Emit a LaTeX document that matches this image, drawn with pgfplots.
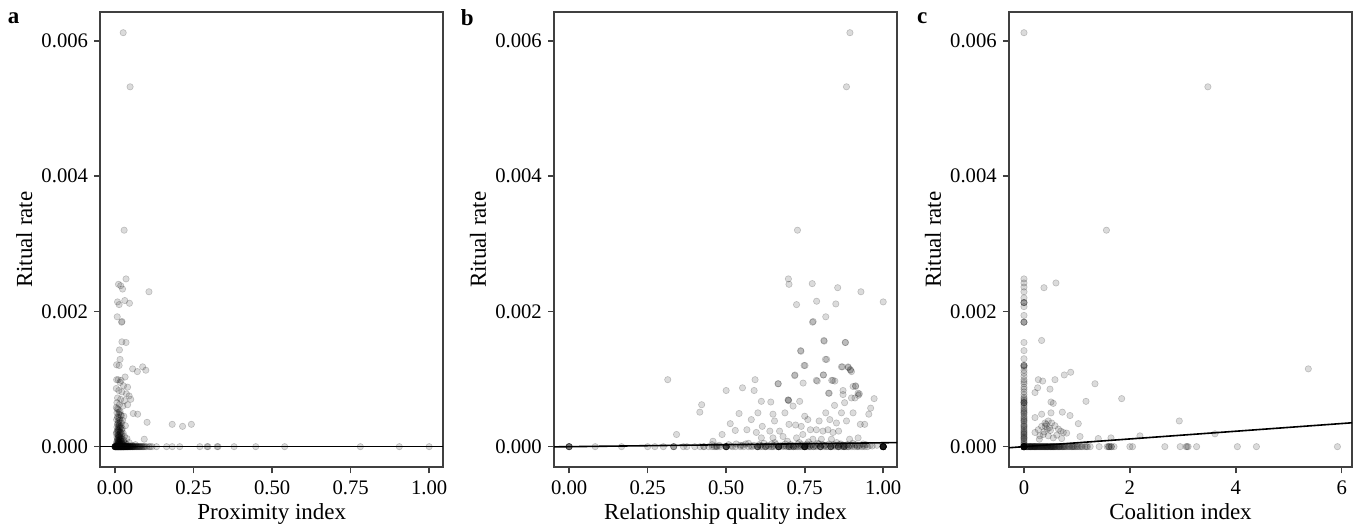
\documentclass[border=0pt]{standalone}
\usepackage{fontspec}
\setmainfont{Liberation Serif}
\usepackage{pgfplots}
\pgfplotsset{compat=1.18}

\newcommand{\tickfont}{\fontsize{15.5}{18}\selectfont}
\newcommand{\labfont}{\fontsize{17.25}{20}\selectfont}

\pgfplotsset{
  panel/.style={
    scale only axis, width=257.25pt, height=341.5pt,
    ymin=-0.000306, ymax=0.006426,
    ytick={0,0.002,0.004,0.006},
    yticklabels={0.000,0.002,0.004,0.006},
    scaled ticks=false,
    tick pos=left, tick align=outside,
    major tick length=4.5pt,
    axis line style={black!75, line width=1.6pt},
    tick style={black!75, line width=1.2pt},
    xticklabel style={font=\tickfont, inner sep=0pt, anchor=north, yshift=-5.5pt},
    yticklabel style={font=\tickfont, inner sep=0pt, anchor=east, xshift=-4.5pt},
    ylabel={Ritual rate},
    ylabel style={font=\labfont, at={(axis description cs:-0.2216,0.5)}, anchor=center},
    xlabel style={font=\labfont, at={(axis description cs:0.5,-0.1136)}, anchor=base},
    clip=false,
  },
  pts/.style={only marks, mark=*, mark size=2.4pt,
    mark options={draw=black, fill=black, fill opacity=0.14, draw opacity=0.2, line width=0.45pt}},
  fit/.style={black, line width=1.2pt, no marks},
}

\begin{document}
\begin{tikzpicture}

% ---------- a: proximity ----------
\begin{axis}[panel, at={(0pt,0pt)}, anchor=south west,
  xmin=-0.047, xmax=1.045,
  xtick={0,0.25,0.5,0.75,1}, xticklabels={0.00,0.25,0.50,0.75,1.00},
  xlabel={Proximity index}]
\addplot[pts] coordinates {
(0.026,0.00612)(0.048,0.00532)(0.029,0.00320)(0.035,0.00248)(0.011,0.00240)(0.018,0.00238)
(0.024,0.00233)(0.108,0.00229)(0.008,0.00214)(0.013,0.00210)(0.031,0.00216)(0.046,0.00212)
(0.007,0.00192)(0.021,0.00184)(0.022,0.00185)(0.022,0.00155)(0.035,0.00154)(0.014,0.00143)
(0.016,0.00129)(0.005,0.00121)(0.013,0.00120)(0.056,0.00115)(0.071,0.00111)(0.088,0.00118)
(0.098,0.00113)(0.005,0.00099)(0.019,0.00098)(0.032,0.00103)(0.010,0.00099)(0.016,0.00095)
(0.027,0.00090)(0.040,0.00088)(0.004,0.00086)(0.012,0.00083)(0.022,0.00081)(0.036,0.00078)
(0.045,0.00075)(0.008,0.00072)(0.018,0.00070)(0.030,0.00068)(0.050,0.00070)(0.006,0.00065)
(0.014,0.00062)(0.025,0.00060)(0.040,0.00062)(0.058,0.00049)(0.072,0.00048)(0.102,0.00036)
(0.182,0.00033)(0.215,0.00030)(0.243,0.00033)(0.093,0.00011)
(0.004,0.00058)(0.010,0.00055)(0.016,0.00052)(0.006,0.00050)(0.012,0.00048)(0.020,0.00046)
(0.008,0.00044)(0.014,0.00042)(0.028,0.00045)(0.005,0.00040)(0.011,0.00038)(0.017,0.00036)
(0.024,0.00039)(0.009,0.00034)(0.013,0.00032)(0.019,0.00030)(0.006,0.00029)(0.033,0.00031)
(0.010,0.00027)(0.015,0.00026)(0.021,0.00025)(0.007,0.00023)(0.012,0.00022)(0.018,0.00021)
(0.026,0.00020)(0.004,0.00019)(0.009,0.00018)(0.014,0.00017)(0.020,0.00016)(0.030,0.00015)
(0.006,0.00014)(0.011,0.00013)(0.016,0.00012)(0.023,0.00011)(0.038,0.00012)(0.008,0.00010)
(0.013,0.00009)(0.018,0.00008)(0.027,0.00008)(0.005,0.00007)(0.010,0.00006)(0.015,0.00006)
(0.021,0.00005)(0.033,0.00005)(0.045,0.00006)(0.007,0.00004)(0.012,0.00004)(0.017,0.00003)
(0.025,0.00003)(0.040,0.00003)(0.003,0.00002)(0.009,0.00002)(0.014,0.00002)(0.019,0.00002)
(0.030,0.00002)(0.055,0.00002)(0.065,0.00003)
(0.007,0.00056)(0.013,0.00051)(0.018,0.00047)(0.009,0.00043)(0.015,0.00039)(0.021,0.00035)
(0.008,0.00033)(0.012,0.00030)(0.017,0.00028)(0.023,0.00027)(0.011,0.00024)(0.016,0.00022)
(0.005,0.00021)(0.022,0.00019)(0.010,0.00017)(0.015,0.00015)(0.019,0.00013)(0.008,0.00012)
(0.013,0.00011)(0.028,0.00010)(0.017,0.00009)(0.010,0.00008)(0.022,0.00007)(0.014,0.00006)
(0.006,0.00005)(0.019,0.00004)(0.024,0.00004)(0.011,0.00003)(0.035,0.00003)(0.016,0.00001)
(0.012,0.00035)(0.014,0.00029)(0.009,0.00025)(0.016,0.00019)(0.011,0.00016)(0.013,0.00014)
(0.018,0.00011)(0.009,0.00009)(0.012,0.00007)(0.020,0.00006)(0.015,0.00004)(0.008,0.00003)
(0.000,0)(0.000,0)(0.000,0)(0.000,0)(0.002,0)(0.003,0)(0.004,0)(0.005,0)(0.006,0)(0.007,0)
(0.008,0)(0.009,0)(0.010,0)(0.011,0)(0.012,0)(0.013,0)(0.014,0)(0.015,0)(0.016,0)(0.017,0)
(0.018,0)(0.019,0)(0.020,0)(0.021,0)(0.022,0)(0.023,0)(0.024,0)(0.025,0)(0.026,0)(0.027,0)
(0.028,0)(0.029,0)(0.030,0)(0.032,0)(0.034,0)(0.036,0)(0.038,0)(0.040,0)(0.042,0)(0.044,0)
(0.046,0)(0.048,0)(0.050,0)(0.052,0)(0.055,0)(0.058,0)(0.061,0)(0.064,0)(0.067,0)(0.070,0)
(0.074,0)(0.078,0)(0.082,0)(0.087,0)(0.092,0)
(0.001,0)(0.004,0)(0.007,0)(0.010,0)(0.013,0)(0.016,0)(0.019,0)(0.022,0)(0.025,0)(0.028,0)
(0.031,0)(0.034,0)(0.037,0)(0.040,0)(0.001,0)(0.006,0)(0.011,0)(0.016,0)(0.021,0)(0.026,0)
(0.000,0)(0.002,0)(0.005,0)(0.008,0)(0.011,0)(0.014,0)(0.017,0)(0.020,0)(0.023,0)(0.026,0)
(0.029,0)(0.033,0)(0.037,0)(0.041,0)(0.045,0)(0.049,0)(0.054,0)(0.060,0)(0.003,0)(0.009,0)
(0.015,0)(0.021,0)(0.027,0)(0.033,0)(0.039,0)(0.047,0)(0.057,0)(0.068,0)(0.076,0)(0.085,0)
(0.000,0)(0.001,0)(0.003,0)(0.004,0)(0.006,0)(0.007,0)(0.009,0)(0.010,0)(0.012,0)(0.013,0)
(0.015,0)(0.017,0)(0.018,0)(0.020,0)(0.022,0)(0.024,0)(0.026,0)(0.028,0)(0.031,0)(0.035,0)
(0.039,0)(0.043,0)(0.050,0)(0.056,0)(0.063,0)(0.072,0)(0.080,0)(0.090,0)(0.096,0)(0.112,0)
(0.100,0)(0.108,0)(0.118,0)(0.132,0)(0.164,0)(0.182,0)(0.206,0)(0.270,0)(0.293,0)(0.296,0)
(0.325,0)(0.328,0)(0.379,0)(0.448,0)(0.540,0)(0.781,0)(0.905,0)(1.000,0)
};
\addplot[fit] coordinates {(-0.047,0)(1.045,0)};
\end{axis}

% ---------- b: relationship quality ----------
\begin{axis}[panel, at={(340.3pt,0pt)}, anchor=south west,
  xmin=-0.048, xmax=1.044,
  xtick={0,0.25,0.5,0.75,1}, xticklabels={0.00,0.25,0.50,0.75,1.00},
  xlabel={Relationship quality index}]
\addplot[pts] coordinates {
(0.894,0.00612)(0.883,0.00532)(0.727,0.00320)(0.698,0.00248)(0.700,0.00240)(0.774,0.00241)
(0.855,0.00235)(0.929,0.00229)(1.000,0.00214)(0.788,0.00215)(0.724,0.00210)(0.849,0.00211)
(0.817,0.00192)(0.775,0.00184)(0.777,0.00185)(0.812,0.00156)(0.880,0.00154)(0.738,0.00141)
(0.751,0.00120)(0.820,0.00129)(0.870,0.00118)(0.889,0.00117)(0.896,0.00113)(0.899,0.00111)
(0.719,0.00106)(0.809,0.00106)(0.314,0.00099)(0.592,0.00099)(0.666,0.00093)(0.745,0.00094)
(0.790,0.00097)(0.836,0.00098)(0.846,0.00097)(0.500,0.00083)(0.552,0.00087)(0.589,0.00083)
(0.828,0.00079)(0.872,0.00083)(0.912,0.00090)(0.924,0.00078)(0.422,0.00062)(0.416,0.00051)
(0.342,0.00018)(0.458,0.00008)(0.487,0.00018)(0.513,0.00034)(0.541,0.00049)(0.529,0.00024)
(0.566,0.00025)(0.580,0.00040)(0.601,0.00050)(0.596,0.00021)(0.612,0.00067)(0.615,0.00030)
(0.639,0.00023)(0.642,0.00066)(0.649,0.00048)(0.654,0.00038)(0.665,0.00093)(0.670,0.00023)
(0.687,0.00050)(0.697,0.00069)(0.699,0.00068)(0.700,0.00033)(0.713,0.00060)(0.721,0.00032)
(0.734,0.00067)(0.739,0.00030)(0.744,0.00018)(0.750,0.00045)(0.760,0.00040)(0.768,0.00025)
(0.776,0.00011)(0.787,0.00025)(0.796,0.00038)(0.808,0.00023)(0.817,0.00050)(0.824,0.00025)
(0.830,0.00040)(0.840,0.00021)(0.851,0.00035)(0.858,0.00023)(0.867,0.00050)(0.872,0.00077)
(0.877,0.00065)(0.883,0.00038)(0.899,0.00072)(0.904,0.00050)(0.912,0.00089)(0.920,0.00079)
(0.927,0.00033)(0.941,0.00033)(0.954,0.00048)(0.960,0.00057)(0.971,0.00071)(0.920,0.00013)
(0.893,0.00011)(0.861,0.00003)(0.835,0.00011)(0.803,0.00011)(0.724,0.00013)(0.681,0.00015)
(0.649,0.00013)(0.612,0.00013)(0.718,0.00105)(0.737,0.00142)(0.748,0.00120)(0.787,0.00098)
(0.810,0.00106)(0.816,0.00129)(0.811,0.00157)(0.840,0.00098)(0.826,0.00079)(0.845,0.00061)
(0.879,0.00154)(0.867,0.00118)(0.888,0.00118)(0.895,0.00114)(0.904,0.00089)(0.910,0.00072)
(0.921,0.00076)(0.698,0.00069)(0.733,0.00006)(0.762,0.00007)(0.791,0.00005)(0.695,0.00008)
(0.655,0.00006)(0.571,0.00005)(0.532,0.00004)(0.852,0.00006)(0.903,0.00005)(0.936,0.00004)
(0.455,0.00003)(0.478,0.00002)(0.508,0.00003)(0.545,0.00002)(0.562,0.00004)(0.588,0.00002)
(0.605,0.00003)(0.620,0.00005)(0.633,0.00002)(0.645,0.00004)(0.660,0.00003)(0.675,0.00002)
(0.688,0.00004)(0.705,0.00003)(0.712,0.00002)(0.728,0.00004)(0.741,0.00003)(0.753,0.00002)
(0.758,0.00004)(0.772,0.00003)(0.783,0.00002)(0.795,0.00004)(0.806,0.00003)(0.815,0.00002)
(0.828,0.00004)(0.842,0.00003)(0.848,0.00002)(0.865,0.00004)(0.872,0.00002)(0.885,0.00003)
(0.895,0.00002)(0.912,0.00003)(0.925,0.00002)(0.945,0.00003)(0.958,0.00002)(0.745,0.00001)
(0.470,0.00001)(0.515,0.00001)(0.552,0.00002)(0.578,0.00001)(0.610,0.00002)(0.628,0.00001)
(0.652,0.00002)(0.683,0.00001)(0.700,0.00002)(0.720,0.00001)(0.735,0.00002)(0.766,0.00001)
(0.790,0.00001)(0.812,0.00002)(0.838,0.00001)(0.855,0.00002)(0.878,0.00001)(0.900,0.00002)
(0.918,0.00001)(0.938,0.00002)(0.965,0.00001)(0.980,0.00002)(0.688,0.00001)(0.760,0.00002)
(0.000,0)(0.000,0)(0.000,0)(0.000,0)(0.000,0)(0.083,0)(0.167,0)(0.250,0)(0.273,0)(0.300,0)
(0.333,0)(0.333,0)(0.333,0)(0.364,0)(0.375,0)(0.400,0)(0.417,0)(0.429,0)(0.429,0)(0.444,0)
(0.455,0)(0.462,0)(0.467,0)(0.471,0)(0.480,0)(0.500,0)(0.500,0)(0.500,0)(0.500,0)(0.500,0)
(0.500,0)(0.520,0)(0.530,0)(0.545,0)(0.556,0)(0.571,0)(0.583,0)(0.600,0)(0.600,0)(0.600,0)
(0.600,0)(0.609,0)(0.615,0)(0.625,0)(0.625,0)(0.625,0)(0.636,0)(0.643,0)(0.647,0)(0.652,0)
(0.667,0)(0.667,0)(0.667,0)(0.667,0)(0.667,0)(0.667,0)(0.680,0)(0.692,0)(0.700,0)(0.700,0)
(0.700,0)(0.706,0)(0.714,0)(0.714,0)(0.714,0)(0.722,0)(0.727,0)(0.733,0)(0.739,0)(0.750,0)
(0.750,0)(0.750,0)(0.750,0)(0.750,0)(0.750,0)(0.750,0)(0.750,0)(0.760,0)(0.765,0)(0.769,0)
(0.778,0)(0.778,0)(0.786,0)(0.800,0)(0.800,0)(0.800,0)(0.800,0)(0.812,0)(0.818,0)(0.824,0)
(0.833,0)(0.833,0)(0.833,0)(0.833,0)(0.846,0)(0.857,0)(0.857,0)(0.857,0)(0.867,0)(0.875,0)
(0.875,0)(0.875,0)(0.882,0)(0.889,0)(0.889,0)(0.900,0)(0.909,0)(0.917,0)(0.923,0)(0.933,0)
(0.941,0)(0.950,0)(1.000,0)(1.000,0)(1.000,0)(1.000,0)(1.000,0)(1.000,0)(1.000,0)(1.000,0)
(1.000,0)(1.000,0)(1.000,0)(1.000,0)(0.500,0)(0.500,0)(0.667,0)(0.667,0)(0.750,0)(0.750,0)
(0.600,0)(0.800,0)(0.833,0)(0.857,0)(0.875,0)(1.000,0)(1.000,0)(1.000,0)
};
\addplot[fit] coordinates {(-0.048,-0.000003)(1.044,0.00006)};
\end{axis}

% ---------- c: coalition ----------
\begin{axis}[panel, at={(681.5pt,0pt)}, anchor=south west,
  xmin=-0.283, xmax=6.195,
  xtick={0,2,4,6}, xticklabels={0,2,4,6},
  xlabel={Coalition index}]
\addplot[pts] coordinates {
(0,0.00612)(3.473,0.00532)(1.557,0.00320)
(0,0.00248)(0,0.00242)(0,0.00236)(0,0.00229)(0,0.00220)(0,0.00213)(0,0.00213)(0,0.00213)
(0,0.00207)(0,0.00194)(0,0.00184)(0,0.00184)(0,0.00184)(0,0.00154)(0,0.00142)(0,0.00130)
(0,0.00120)(0,0.00120)(0,0.00120)(0,0.00118)(0,0.00109)(0,0.00099)(0,0.00093)(0,0.00085)
(0,0.00077)(0,0.00069)(0,0.00065)(0,0.00065)(0,0.00065)(0,0.00057)(0,0.00051)(0,0.00045)
(0,0.00039)(0,0.00033)(0,0.00026)(0,0.00019)(0,0.00013)(0,0.00006)(0,0.00060)(0,0.00048)
(0,0.00036)(0,0.00028)(0,0.00022)(0,0.00016)(0,0.00010)(0,0.00004)
(0,0.00113)(0,0.00104)(0,0.00096)(0,0.00088)(0,0.00081)(0,0.00073)(0,0.00067)(0,0.00062)
(0,0.00055)(0,0.00050)(0,0.00043)(0,0.00038)(0,0.00031)(0,0.00024)(0,0.00018)(0,0.00012)
(0,0.00008)(0,0.00003)(0,0.00071)(0,0.00053)(0,0.00041)(0,0.00030)(0,0.00021)(0,0.00014)
(0.604,0.00242)(0.378,0.00235)(0.333,0.00157)(0.270,0.00099)(0.353,0.00097)(0.585,0.00099)
(0.761,0.00106)(0.882,0.00110)(1.341,0.00093)(0.208,0.00080)(0.258,0.00087)(0.491,0.00085)
(0.510,0.00066)(0.553,0.00064)(1.171,0.00067)(1.845,0.00071)(0.724,0.00051)(0.869,0.00046)
(0.208,0.00043)(0.334,0.00048)(0.510,0.00050)(1.026,0.00034)(2.933,0.00038)(5.370,0.00115)
(0.208,0.00021)(0.270,0.00025)(0.334,0.00030)(0.397,0.00035)(0.459,0.00038)(0.522,0.00035)
(0.585,0.00031)(0.650,0.00026)(0.694,0.00023)(0.743,0.00021)(0.806,0.00020)(0.365,0.00018)
(0.459,0.00016)(0.553,0.00013)(0.712,0.00012)(0.290,0.00011)(0.420,0.00033)(0.480,0.00028)
(1.058,0.00015)(1.403,0.00012)(1.643,0.00013)(2.190,0.00016)(3.607,0.00019)
(0.400,0.00030)(0.440,0.00026)(0.380,0.00022)(0.500,0.00024)(0.300,0.00016)(0.620,0.00017)
(0,0)(0,0)(0,0)(0,0)(0,0)(0,0)(0,0)(0,0)(0,0)(0,0)(0,0)(0,0)(0,0)(0,0)
(0,0)(0,0)(0,0)(0,0)(0,0)(0,0)(0,0)(0,0)(0,0)(0,0)
(0.05,0)(0.08,0)(0.10,0)(0.13,0)(0.15,0)(0.18,0)(0.20,0)(0.22,0)(0.25,0)(0.27,0)
(0.30,0)(0.32,0)(0.35,0)(0.38,0)(0.40,0)(0.42,0)(0.45,0)(0.48,0)(0.50,0)(0.52,0)
(0.55,0)(0.58,0)(0.60,0)(0.63,0)(0.66,0)(0.70,0)(0.73,0)(0.76,0)(0.80,0)(0.83,0)
(0.87,0)(0.90,0)(0.93,0)(0.97,0)(1.00,0)(1.05,0)(1.10,0)(1.15,0)(1.20,0)(1.25,0)
(0.11,0)(0.16,0)(0.24,0)(0.33,0)(0.41,0)(0.50,0)(0.57,0)(0.67,0)(0.75,0)(0.12,0)
(0.20,0)(0.29,0)(0.37,0)(0.45,0)(0.53,0)(0.62,0)
(0.06,0)(0.09,0)(0.14,0)(0.17,0)(0.21,0)(0.26,0)(0.31,0)(0.36,0)(0.39,0)(0.44,0)
(0.47,0)(0.54,0)(0.59,0)(0.65,0)(0.72,0)(0.85,0)(0.95,0)(1.08,0)
(0.04,0)(0.07,0)(0.12,0)(0.19,0)(0.23,0)(0.28,0)(0.34,0)(0.43,0)(0.51,0)(0.56,0)
(0.68,0)(0.78,0)(0.91,0)(1.02,0)(1.18,0)(1.65,0)(1.60,0)(3.08,0)
(1.42,0)(1.57,0)(1.60,0)(1.62,0)(1.65,0)(1.70,0)(2.00,0)(2.05,0)(2.66,0)(2.95,0)
(3.06,0)(3.10,0)(3.26,0)(4.03,0)(4.39,0)(5.92,0)
};
\addplot[fit] coordinates {(-0.283,-0.000016)(6.195,0.000353)};
\end{axis}

% panel tags
\node[font=\bfseries\labfont] at (-65pt,337pt) {a};
\node[font=\bfseries\labfont] at (275.3pt,337pt) {b};
\node[font=\bfseries\labfont] at (616.5pt,337pt) {c};

\pgfresetboundingbox
\path (-75.2pt,-45.5pt) rectangle (944pt,350.5pt);
\end{tikzpicture}
\end{document}
